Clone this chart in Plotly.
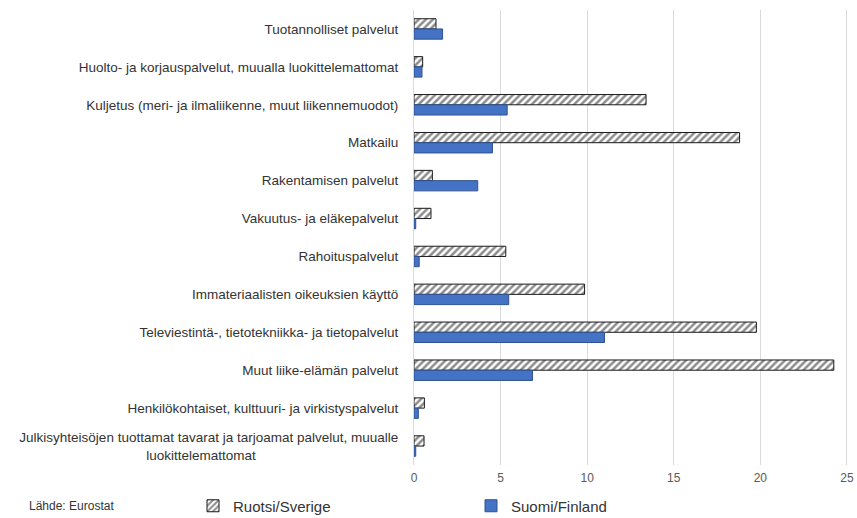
import plotly.graph_objects as go

categories = [
    "Tuotannolliset palvelut",
    "Huolto- ja korjauspalvelut, muualla luokittelemattomat",
    "Kuljetus (meri- ja ilmaliikenne, muut liikennemuodot)",
    "Matkailu",
    "Rakentamisen palvelut",
    "Vakuutus- ja eläkepalvelut",
    "Rahoituspalvelut",
    "Immateriaalisten oikeuksien käyttö",
    "Televiestintä-, tietotekniikka- ja tietopalvelut",
    "Muut liike-elämän palvelut",
    "Henkilökohtaiset, kulttuuri- ja virkistyspalvelut",
    "Julkisyhteisöjen tuottamat tavarat ja tarjoamat palvelut, muualle<br>luokittelemattomat" + "\u00a0" * 38,
]
sweden = [1.27, 0.5, 13.4, 18.8, 1.06, 0.98, 5.3, 9.85, 19.77, 24.24, 0.6, 0.58]
finland = [1.65, 0.46, 5.38, 4.53, 3.68, 0.1, 0.3, 5.47, 11.0, 6.84, 0.25, 0.1]
x_ticks = [0, 5, 10, 15, 20, 25]

font = "Liberation Sans, Arial, sans-serif"
W, H = 857, 518

fig = go.Figure()
fig.add_trace(go.Bar(
    name="Ruotsi/Sverige", y=categories, x=sweden, orientation="h", legend="legend",
    showlegend=True,
    marker=dict(color="white", line=dict(color="#1a1a1a", width=1),
                pattern=dict(shape="/", fgcolor="#1a1a1a", bgcolor="white", size=5, solidity=0.5)),
))
fig.add_trace(go.Bar(
    name="Suomi/Finland", y=categories, x=finland, orientation="h", legend="legend2",
    showlegend=True,
    marker=dict(color="#4472C4", line=dict(color="#2F528F", width=1)),
))

leg_common = dict(xref="container", yref="container", xanchor="left", yanchor="middle",
                  y=(518 - 506) / H, font=dict(size=15, color="#333333"), bgcolor="rgba(0,0,0,0)",
                  visible=True)

fig.update_layout(
    width=W, height=H, showlegend=True,
    margin=dict(l=414, r=857 - 848, t=10, b=518 - 465, autoexpand=False),
    paper_bgcolor="white", plot_bgcolor="white",
    barmode="group", bargap=0.46, bargroupgap=0,
    font=dict(family=font, size=12, color="#404040"),
    legend=dict(x=193 / W, **leg_common),
    legend2=dict(x=471 / W, **leg_common),
    xaxis=dict(range=[0, 25.06], tickvals=x_ticks, showgrid=True, gridcolor="#d9d9d9",
               gridwidth=1, zeroline=False, tickfont=dict(size=12, color="#595959"),
               showline=False, automargin=False, ticklabelstandoff=4),
    yaxis=dict(autorange="reversed", showline=True, linecolor="#d9d9d9", automargin=False,
               ticks="", ticklabelstandoff=12, tickfont=dict(size=13.5, color="#333333")),
    annotations=[dict(text="Lähde: Eurostat", xref="paper", yref="paper",
                      x=(27 - 414) / 434, y=-41 / 455, xanchor="left", yanchor="middle",
                      showarrow=False, font=dict(size=12, color="#333333"))],
)

fig.write_html(
    "out.html",
    config={"displayModeBar": False},
    post_script="document.body.style.margin='0';document.body.style.overflow='hidden';",
)
